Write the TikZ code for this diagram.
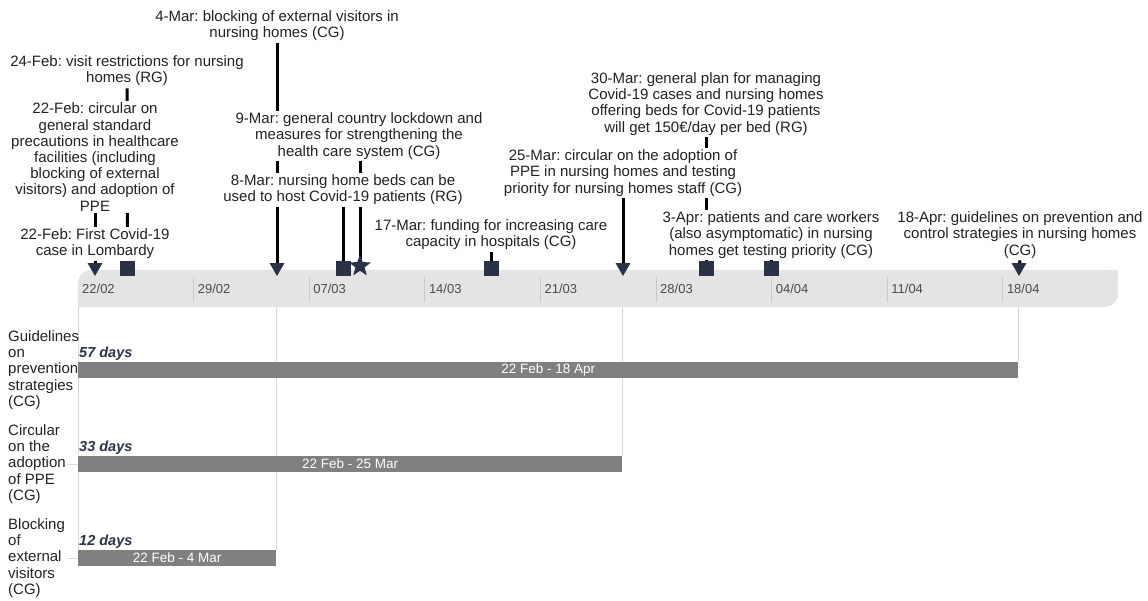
\documentclass[tikz,border=0pt]{standalone}
\usepackage{fontspec}
\setmainfont{Liberation Sans}
\usetikzlibrary{shapes.geometric,backgrounds}
\definecolor{navy}{HTML}{2B3245}
\definecolor{bandgray}{HTML}{E4E4E4}
\definecolor{bargray}{HTML}{808080}
\definecolor{tickgray}{HTML}{C9C9C9}
\definecolor{guidegray}{HTML}{D9D9D9}
\definecolor{txt}{HTML}{222222}
\frenchspacing

\begin{document}
\begin{tikzpicture}[x=1pt,y=-1pt,
    ev/.style={fill=white,align=center,inner sep=2pt,text=txt,
        font=\fontsize{15}{16.2}\selectfont},
    row/.style={align=left,anchor=west,inner sep=2pt,text=txt,
        font=\fontsize{15}{16.2}\selectfont},
    dtri/.style={fill=navy,regular polygon,regular polygon sides=3,
        shape border rotate=180,minimum size=17pt,inner sep=0pt,
        outer sep=0pt,anchor=corner 1},
    dsq/.style={fill=navy,rectangle,minimum size=15pt,inner sep=0pt,
        outer sep=0pt,anchor=south},
    dstar/.style={fill=navy,star,star points=5,star point ratio=2.4,
        minimum size=23pt,inner sep=0pt,outer sep=0pt},
    pole/.style={line width=3pt,black},
    bar/.style={fill=bargray,text=white,inner sep=0pt,minimum height=16pt,
        anchor=west,font=\fontsize{13.5}{14}\selectfont},
    dur/.style={anchor=south west,inner sep=1pt,text=navy,
        font=\fontsize{14.5}{15}\selectfont\bfseries\itshape},
    guide/.style={guidegray,line width=1pt}]

    \useasboundingbox (0,0) rectangle (1148,601);

    % the band
    \fill[bandgray,rounded corners=13pt] (78,270) rectangle (1118,307);
    \fill[bandgray] (1095,270) rectangle (1118,290);
    \fill[bandgray] (78,290) rectangle (100,307);
    \coordinate (bandbot) at (0,307);
    \foreach \d [count=\i from 0] in {22/02,29/02,07/03,14/03,21/03,28/03,04/04,11/04,18/04}
        \node[anchor=west,inner sep=0pt,text=black!70,
            font=\fontsize{13}{13}\selectfont] (tk\i) at (82+115.6*\i,289) {\d};
    \foreach \i in {1,...,8}
        \draw[tickgray,line width=1pt] (78+115.6*\i,277) -- (78+115.6*\i,302);

    % the bars
    \node[row] (r57) at (6,370) {Guidelines\\on\\prevention\\strategies\\(CG)};
    \node[row] (r33) at (6,464) {Circular\\on the\\adoption\\of PPE\\(CG)};
    \node[row] (r12) at (6,558) {Blocking\\of\\external\\visitors\\(CG)};

    \node[bar,minimum width=940pt] (b57) at (78,370) {22 Feb - 18 Apr};
    \node[bar,minimum width=544pt] (b33) at (78,464) {22 Feb - 25 Mar};
    \node[bar,minimum width=198pt] (b12) at (78,558) {22 Feb - 4 Mar};

    \begin{pgfonlayer}{background}
    \draw[guide] (b12.north west |- bandbot) -- (b12.north west);
    \draw[guide] (b12.north east |- bandbot) -- (b12.north east);
    \draw[guide] (b33.north east |- bandbot) -- (b33.north east);
    \draw[guide] (b57.north east |- bandbot) -- (b57.north east);
    \draw[guide] (r33.east) -- (b33.west);
    \draw[guide] (r12.east) -- (b12.west);
    \end{pgfonlayer}

    \node[dur] at (b57.north west) {57 days};
    \node[dur] at (b33.north west) {33 days};
    \node[dur] at (b12.north west) {12 days};

    % the texts
    \node[ev] (l04) at (277,26) {4-Mar: blocking of external visitors in\\nursing homes (CG)};
    \node[ev] (l24) at (127,71) {24-Feb: visit restrictions for nursing\\homes (RG)};
    \node[ev] (l22b) at (95,157) {22-Feb: circular on\\general standard\\precautions in healthcare\\facilities (including\\blocking of external\\visitors) and adoption of\\PPE};
    \node[ev] (l22a) at (95,244) {22-Feb: First Covid-19\\case in Lombardy};
    \node[ev] (l09) at (359,136) {9-Mar: general country lockdown and\\measures for strengthening the\\health care system (CG)};
    \node[ev] (l08) at (343,190) {8-Mar: nursing home beds can be\\used to host Covid-19 patients (RG)};
    \node[ev] (l17) at (491,235) {17-Mar: funding for increasing care\\capacity in hospitals (CG)};
    \node[ev] (l25) at (623,173) {25-Mar: circular on the adoption of\\PPE in nursing homes and testing\\priority for nursing homes staff (CG)};
    \node[ev] (l30) at (706,104) {30-Mar: general plan for managing\\Covid-19 cases and nursing homes\\offering beds for Covid-19 patients\\will get 150€/day per bed (RG)};
    \node[ev] (l03) at (771,235) {3-Apr: patients and care workers\\(also asymptomatic) in nursing\\homes get testing priority (CG)};
    \node[ev] (l18) at (1020,235) {18-Apr: guidelines on prevention and\\control strategies in nursing homes\\(CG)};

    % the markers
    \node[dtri] (t22) at (95,276) {};
    \node[dsq] (s24) at (127.5,276) {};
    \node[dtri] (t04) at (277,276) {};
    \node[dsq] (s08) at (343,276) {};
    \node[dstar] (st09) at (360,266) {};
    \node[dsq] (s17) at (491,276) {};
    \node[dtri] (t25) at (623,276) {};
    \node[dsq] (s30) at (706,276) {};
    \node[dsq] (s03) at (771,276) {};
    \node[dtri] (t18) at (1019,276) {};

    \begin{pgfonlayer}{background}
    \draw[pole] (l22a.south) -- (t22.center);
    \draw[pole] (l22b.south) -- (t22.center);
    \draw[pole] (l24.south) -- (s24.center);
    \draw[pole] (l04.south) -- (t04.center);
    \draw[pole] (l08.south) -- (s08.center);
    \draw[pole] (l09.south -| st09.center) -- (st09.center);
    \draw[pole] (l17.south) -- (s17.center);
    \draw[pole] (l25.south) -- (t25.center);
    \draw[pole] (l30.south) -- (s30.center);
    \draw[pole] (l03.south) -- (s03.center);
    \draw[pole] (l18.south) -- (t18.center);
    \end{pgfonlayer}
\end{tikzpicture}
\end{document}
